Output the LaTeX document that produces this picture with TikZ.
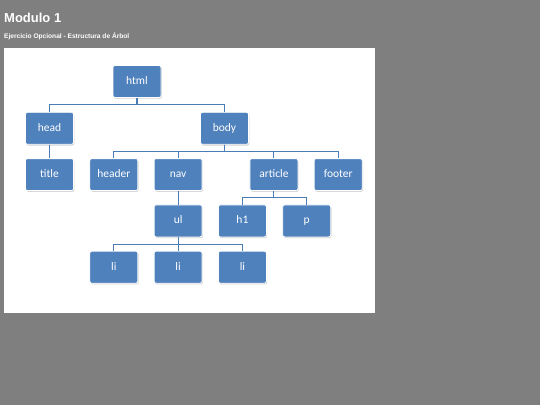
\documentclass[tikz,border=0pt]{standalone}
\usepackage{fontspec}
\setmainfont{Liberation Sans}
\newfontfamily\boxfont{Carlito}
\usetikzlibrary{positioning,calc,shadows}
\definecolor{slidegray}{HTML}{7F7F7F}
\definecolor{officeblue}{HTML}{4F81BD}
\definecolor{linkblue}{HTML}{4A7DB5}

\begin{document}
\begin{tikzpicture}[x=1pt,y=-1pt,
  tag/.style={rectangle, draw=white, line width=0.8pt, fill=officeblue, rounded corners=2pt, minimum width=48pt, minimum height=32pt, inner sep=0pt, text height=8pt, text depth=2pt, text=white, font=\boxfont\fontsize{11.5}{13}\selectfont, drop shadow={shadow xshift=0.8pt, shadow yshift=-1.2pt, opacity=0.35}},
  link/.style={draw=linkblue, line width=1.1pt}]

%--fondo y panel blanco
\fill[slidegray] (0,0) rectangle (540,405);
\useasboundingbox (0,0) rectangle (540,405);
\fill[white] (4,48) rectangle (375,313);
\node [anchor=base west, inner sep=0pt, text=white, font=\bfseries\fontsize{13}{15}\selectfont] (titulo) at (4,22) {Modulo 1};
\node [anchor=base west, inner sep=0pt, text=white, font=\bfseries\fontsize{6.6}{8}\selectfont] (subtitulo) at (4,38.5) {Ejercicio Opcional - Estructura de Árbol};

%--raiz y primer nivel
\node [tag] (html) at (137,81.5) {html};
\node [tag, below left=14pt and 87.5pt of html.south, anchor=north] (head) {head};
\node [tag, below right=14pt and 87.5pt of html.south, anchor=north] (body) {body};

%--segundo nivel
\node [tag, below=13.5pt of head] (title) {title};
\node [tag, right=15.5pt of title] (header) {header};
\node [tag, right=15.5pt of header] (nav) {nav};
\node [tag, right=47pt of nav] (article) {article};
\node [tag, right=15.5pt of article] (footer) {footer};

%--tercer nivel
\node [tag, below=13.5pt of nav] (ul) {ul};
\node [tag, right=15.5pt of ul] (h1) {h1};
\node [tag, right=15.5pt of h1] (p) {p};

%--elementos de la lista
\node [tag, below=13.5pt of ul] (li2) {li};
\node [tag, left=15.5pt of li2] (li1) {li};
\node [tag, right=15.5pt of li2] (li3) {li};

%--conectores
\draw[link] (html.south) |- ($(html.south)!0.5!(head.north)$) -| (head.north);
\draw[link] (html.south) |- ($(html.south)!0.5!(body.north)$) -| (body.north);
\draw[link] (head.south) -- (title.north);

\foreach \hijo in {header,nav,article,footer}
  \draw[link] (body.south) |- ($(body.south)!0.5!(\hijo.north)$) -| (\hijo.north);

\draw[link] (nav.south) -- (ul.north);
\draw[link] (article.south) |- ($(article.south)!0.5!(h1.north)$) -| (h1.north);
\draw[link] (article.south) |- ($(article.south)!0.5!(p.north)$) -| (p.north);

\foreach \hijo in {li1,li2,li3}
  \draw[link] (ul.south) |- ($(ul.south)!0.5!(\hijo.north)$) -| (\hijo.north);

\end{tikzpicture}
\end{document}
